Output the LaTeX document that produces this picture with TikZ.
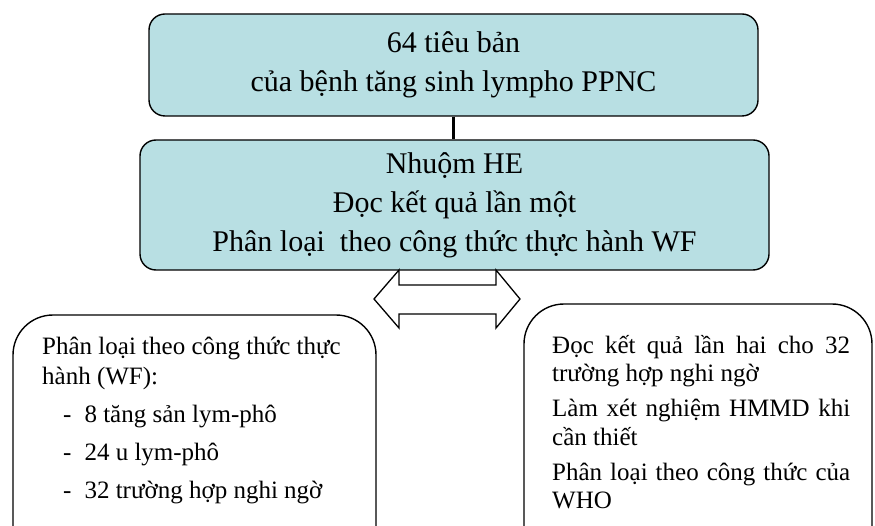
\documentclass[tikz,border=0pt]{standalone}
\usepackage{fontspec}
\setmainfont{Liberation Serif}
\definecolor{boxblue}{HTML}{B8DFE3}
\tikzset{
  bluebox/.style={draw=black, line width=1.4pt, fill=boxblue, rounded corners=16pt,
    align=center, inner sep=0pt, font=\fontsize{30}{38}\selectfont},
  whitebox/.style={draw=black, line width=1.4pt, fill=white, rounded corners=40pt},
  boxtext/.style={inner sep=0pt, anchor=north west, font=\fontsize{25}{30}\selectfont}
}
\begin{document}
\begin{tikzpicture}[x=1pt,y=-1pt]
\useasboundingbox (0,0) rectangle (875,526);
\clip (0,0) rectangle (875,526);
% boxes
\node[bluebox, minimum width=609pt, minimum height=102pt] (top) at (453.5,65)
  {64 tiêu bản\\[1pt]của bệnh tăng sinh lympho PPNC};
\node[bluebox, minimum width=629pt, minimum height=130pt] (mid) at (454.5,205)
  {Nhuộm HE\\[1pt]Đọc kết quả lần một\\[1pt]Phân loại\ \ theo công thức thực hành WF};
\draw[line width=2.6pt] (top.south) -- (top.south |- mid.north);
% double block arrow
\draw[line width=1.3pt, fill=white, line join=miter]
  (374,299) coordinate (tipL) -- (399,270) -- (399,285) -- (496,285) -- (496,270)
  -- (520,299) coordinate (tipR) -- (496,328) -- (496,314) -- (399,314) -- (399,328) -- cycle;
% bottom boxes
\draw[whitebox] (13,315) rectangle (376,580);
\draw[whitebox] (524,304) rectangle (872,580);
\node[boxtext, align=left] (lefttext) at (42,337)
  {Phân loại theo công thức thực\\hành (WF):\\[8pt]
   \hspace*{21pt}-\hspace{13pt}8 tăng sản lym-phô\\[8pt]
   \hspace*{21pt}-\hspace{13pt}24 u lym-phô\\[8pt]
   \hspace*{21pt}-\hspace{13pt}32 trường hợp nghi ngờ};
\node[boxtext, text width=298pt, align=justify, font=\fontsize{25}{28.5}\selectfont] (righttext) at (552,335)
  {\hyphenpenalty=10000\exhyphenpenalty=10000\tolerance=9999\setlength{\parskip}{6.5pt}%
   Đọc kết quả lần hai cho 32 trường hợp nghi ngờ\par
   Làm xét nghiệm HMMD khi cần thiết\par
   Phân loại theo công thức của WHO};
\end{tikzpicture}
\end{document}
